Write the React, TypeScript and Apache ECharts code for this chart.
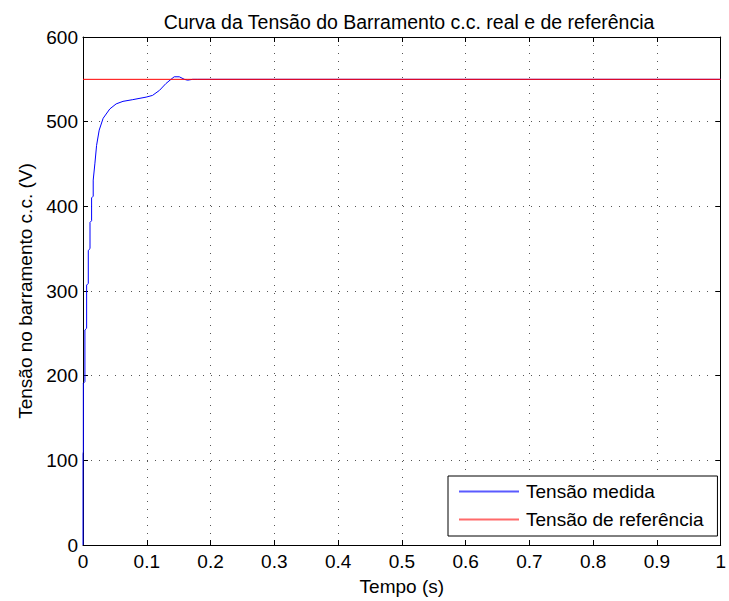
import React, { useEffect, useRef } from "react";
import * as echarts from "echarts";

// Measured DC-bus voltage (time in s, voltage in V)
const measuredTime = [
  0, 0, 0.0005, 0.0005, 0.003, 0.003, 0.0057, 0.0057, 0.0083, 0.0083, 0.011, 0.011,
  0.0135, 0.0135, 0.016, 0.016, 0.0187, 0.0213, 0.0254, 0.0316, 0.042, 0.052, 0.0627,
  0.078, 0.099, 0.109, 0.12, 0.13, 0.138, 0.143, 0.151, 0.159, 0.164, 0.172, 0.18, 1,
];
const measuredVoltage = [
  0, 108, 110, 191, 193, 254, 256, 307, 309, 348, 350, 381,
  383, 410, 412, 431, 451, 472, 490, 504, 515, 521, 524,
  526, 529, 531, 537, 545, 550, 553, 553, 550, 549, 550, 550, 550,
];

// Reference DC-bus voltage
const referenceTime = [0, 1];
const referenceVoltage = [550, 550];

const xTicks = [0, 0.1, 0.2, 0.3, 0.4, 0.5, 0.6, 0.7, 0.8, 0.9, 1];
const yTicks = [0, 100, 200, 300, 400, 500, 600];

const seriesNames = ["Tensão medida", "Tensão de referência"];
const titleText = "Curva da Tensão do Barramento c.c. real e de referência";
const xName = "Tempo (s)";
const yName = "Tensão no barramento c.c. (V)";

const FONT = "'Liberation Sans', Arial, sans-serif";
const FS = 19;

export default function App() {
  const ref = useRef<HTMLDivElement>(null);

  useEffect(() => {
    if (!ref.current) return;
    const chart = echarts.init(ref.current, null, { renderer: "svg" });

    const pair = (xs: number[], ys: number[]) => xs.map((x, i) => [x, ys[i]]);
    const xStep = xTicks[1] - xTicks[0];
    const yStep = yTicks[1] - yTicks[0];

    const gridLine = { show: true, lineStyle: { color: "#555", width: 1, type: [1, 7] as any } };
    const axisLine = { show: true, onZero: false, lineStyle: { color: "#000", width: 1 } };
    const tick = { show: true, inside: true, length: 5, lineStyle: { color: "#000" } };
    const text = { fontFamily: FONT, fontSize: FS, color: "#000" };

    chart.setOption({
      animation: false,
      backgroundColor: "#fff",
      title: {
        text: titleText,
        left: 404,
        textAlign: "center",
        top: 7,
        textStyle: { ...text, fontSize: 19.5, fontWeight: "normal" },
      },
      grid: { left: 83, right: 3, top: 37, bottom: 56, containLabel: false },
      legend: {
        orient: "vertical",
        left: 448,
        top: 476,
        padding: [6, 14, 7, 11],
        itemGap: 9,
        itemWidth: 60,
        itemHeight: 2,
        icon: "rect",
        backgroundColor: "#fff",
        borderColor: "#000",
        borderWidth: 1,
        borderRadius: 0,
        textStyle: { ...text, lineHeight: 19, padding: [0, 0, 0, 2] },
        data: seriesNames,
      },
      xAxis: [
        {
          type: "value",
          min: xTicks[0],
          max: xTicks[xTicks.length - 1],
          interval: xStep,
          name: xName,
          nameLocation: "middle",
          nameGap: 32,
          nameTextStyle: text,
          axisLine,
          axisTick: tick,
          axisLabel: {
            ...text,
            margin: 7,
            formatter: (v: number) => String(Math.round(v * 10) / 10),
          },
          splitLine: gridLine,
        },
        {
          type: "value",
          position: "top",
          min: xTicks[0],
          max: xTicks[xTicks.length - 1],
          interval: xStep,
          axisLine,
          axisTick: tick,
          axisLabel: { show: false },
          splitLine: { show: false },
        },
      ],
      yAxis: [
        {
          type: "value",
          min: yTicks[0],
          max: yTicks[yTicks.length - 1],
          interval: yStep,
          name: yName,
          nameLocation: "middle",
          nameGap: 47,
          nameTextStyle: text,
          axisLine,
          axisTick: tick,
          axisLabel: { ...text, margin: 5 },
          splitLine: gridLine,
        },
        {
          type: "value",
          position: "right",
          min: yTicks[0],
          max: yTicks[yTicks.length - 1],
          interval: yStep,
          axisLine,
          axisTick: tick,
          axisLabel: { show: false },
          splitLine: { show: false },
        },
      ],
      series: [
        {
          name: seriesNames[0],
          type: "line",
          data: pair(measuredTime, measuredVoltage),
          showSymbol: false,
          symbol: "none",
          lineStyle: { color: "#0000ff", width: 1 },
          itemStyle: { color: "#5a5aff" },
          z: 2,
        },
        {
          name: seriesNames[1],
          type: "line",
          data: pair(referenceTime, referenceVoltage),
          showSymbol: false,
          symbol: "none",
          lineStyle: { color: "#ff0000", width: 1 },
          itemStyle: { color: "#ff6a6a" },
          z: 3,
        },
      ],
    });

    return () => chart.dispose();
  }, []);

  return <div ref={ref} style={{ width: 729, height: 601, position: "absolute", left: 0, top: 0 }} />;
}
